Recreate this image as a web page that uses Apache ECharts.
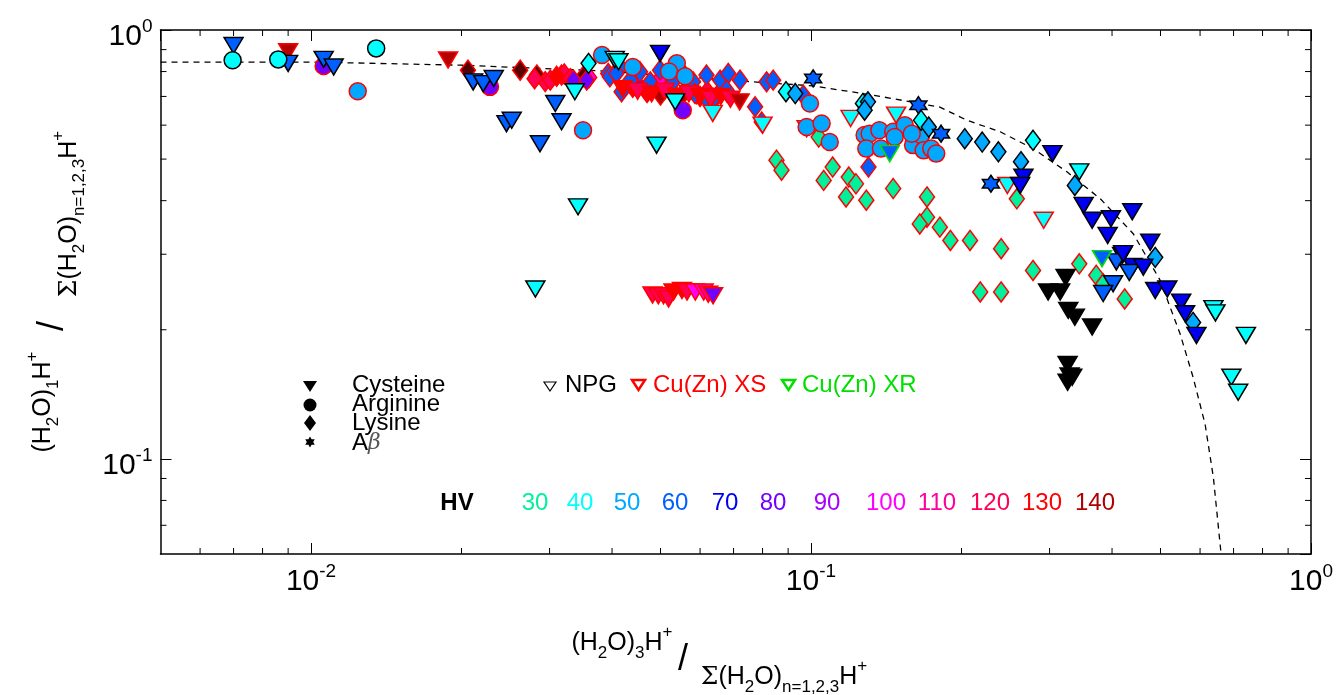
<!DOCTYPE html>
<html>
<head>
<meta charset="utf-8">
<script src="https://cdn.jsdelivr.net/npm/echarts@6/dist/echarts.min.js"></script>
<style>
  html, body { margin: 0; background: #fff; }
  #chart { width: 1339px; height: 695px; }
</style>
</head>
<body>
<div id="chart"></div>
<script>
// ── Data: [x, y, HV] per amino acid / preparation ──
const cysNpg = [
  [0.0070, 0.920, 60], [0.0090, 0.836, 60], [0.0106, 0.854, 60], [0.0111, 0.820, 60],
  [0.0211, 0.757, 60], [0.0221, 0.750, 60], [0.0232, 0.771, 60], [0.0246, 0.605, 60],
  [0.0252, 0.616, 60], [0.0287, 0.543, 60], [0.0308, 0.674, 60], [0.0317, 0.611, 60],
  [0.0337, 0.718, 40], [0.0405, 0.854, 40], [0.0412, 0.843, 40], [0.0499, 0.882, 70],
  [0.0491, 0.539, 40], [0.0342, 0.387, 40], [0.0281, 0.249, 40], [0.0535, 0.680, 40],
  [0.304, 0.515, 70], [0.266, 0.454, 70], [0.262, 0.434, 70], [0.344, 0.467, 40],
  [0.351, 0.390, 70], [0.365, 0.360, 70], [0.398, 0.363, 70], [0.439, 0.377, 70],
  [0.392, 0.332, 70], [0.477, 0.320, 70], [0.419, 0.298, 70], [0.440, 0.281, 70],
  [0.408, 0.288, 60], [0.433, 0.272, 60], [0.462, 0.280, 70], [0.402, 0.256, 60],
  [0.384, 0.243, 60], [0.421, 0.301, 70], [0.488, 0.247, 70], [0.516, 0.249, 70],
  [0.550, 0.232, 70], [0.560, 0.218, 70], [0.590, 0.194, 70], [0.638, 0.224, 40],
  [0.644, 0.219, 40], [0.741, 0.194, 40], [0.693, 0.155, 40], [0.715, 0.143, 40],
  [0.298, 0.245, 20], [0.315, 0.245, 20], [0.323, 0.265, 20], [0.327, 0.222, 20],
  [0.337, 0.214, 20], [0.365, 0.203, 20], [0.326, 0.166, 20], [0.329, 0.156, 20],
  [0.326, 0.151, 20], [0.333, 0.155, 20]
];
const cysXs = [
  [0.042, 0.730, 130], [0.045, 0.720, 120], [0.048, 0.710, 130], [0.051, 0.720, 120],
  [0.054, 0.700, 130], [0.057, 0.710, 120], [0.060, 0.700, 130], [0.063, 0.690, 120],
  [0.066, 0.700, 130], [0.069, 0.690, 120],
  [0.0090, 0.890, 140], [0.0188, 0.851, 140], [0.0720, 0.680, 140], [0.0636, 0.639, 40],
  [0.0800, 0.600, 40], [0.0980, 0.589, 40], [0.1200, 0.622, 40], [0.1480, 0.633, 40],
  [0.2470, 0.434, 40], [0.2920, 0.360, 40],
  [0.0482, 0.241, 120], [0.0495, 0.240, 120], [0.0507, 0.240, 120], [0.0519, 0.236, 120],
  [0.0531, 0.245, 130], [0.0552, 0.247, 130], [0.0565, 0.245, 120], [0.0587, 0.245, 100],
  [0.0610, 0.245, 100], [0.0623, 0.242, 110], [0.0637, 0.240, 80]
];
const cysXr = [[0.1437, 0.515, 60], [0.382, 0.293, 60]];
const argNpg = [[0.00697, 0.850, 40], [0.0086, 0.854, 40], [0.0135, 0.906, 40]];
const argXs = [
  [0.0106, 0.824, 80], [0.0124, 0.720, 50], [0.0228, 0.737, 80], [0.0382, 0.874, 50],
  [0.0350, 0.584, 50], [0.0539, 0.836, 50], [0.0554, 0.650, 80], [0.044, 0.820, 50],
  [0.052, 0.800, 50], [0.056, 0.780, 50],
  [0.0995, 0.674, 50], [0.098, 0.594, 50], [0.105, 0.605, 50], [0.109, 0.548, 50],
  [0.128, 0.569, 50], [0.131, 0.573, 50], [0.137, 0.584, 50], [0.146, 0.579, 50],
  [0.154, 0.600, 50], [0.129, 0.529, 50], [0.138, 0.529, 50], [0.147, 0.563, 50],
  [0.160, 0.539, 50], [0.166, 0.569, 50], [0.168, 0.524, 50], [0.174, 0.529, 50],
  [0.178, 0.515, 50], [0.159, 0.573, 50]
];
const lysNpg = [
  [0.0359, 0.836, 40], [0.0891, 0.718, 40], [0.0930, 0.711, 50], [0.127, 0.674, 40],
  [0.130, 0.680, 50], [0.128, 0.650, 50], [0.166, 0.616, 40], [0.172, 0.594, 50],
  [0.203, 0.558, 50], [0.220, 0.548, 50], [0.237, 0.520, 50], [0.263, 0.493, 50],
  [0.278, 0.553, 40], [0.337, 0.434, 50], [0.488, 0.295, 50], [0.581, 0.208, 50]
];
const lysXs = [
  [0.044, 0.735, 130], [0.047, 0.715, 130], [0.050, 0.730, 120], [0.053, 0.715, 130],
  [0.056, 0.725, 120], [0.059, 0.710, 130], [0.062, 0.720, 120], [0.065, 0.705, 130],
  [0.068, 0.715, 120], [0.050, 0.705, 140], [0.055, 0.700, 140], [0.060, 0.700, 140],
  [0.0206, 0.806, 150], [0.0262, 0.806, 150], [0.0283, 0.785, 150], [0.0350, 0.778, 150],
  [0.0294, 0.758, 120], [0.0301, 0.764, 120], [0.0317, 0.785, 120], [0.0321, 0.790, 120],
  [0.0330, 0.770, 120], [0.0280, 0.770, 120], [0.0310, 0.780, 130],
  [0.0360, 0.775, 100], [0.0499, 0.771, 100],
  [0.0335, 0.764, 80], [0.0451, 0.744, 80], [0.0356, 0.764, 80],
  [0.0393, 0.792, 60], [0.0415, 0.821, 60], [0.0435, 0.764, 60], [0.0455, 0.799, 60],
  [0.0477, 0.757, 60], [0.0499, 0.806, 60], [0.0530, 0.757, 60], [0.0555, 0.792, 60],
  [0.0581, 0.757, 60], [0.0618, 0.785, 60], [0.0658, 0.764, 60], [0.0683, 0.792, 60],
  [0.0721, 0.764, 60], [0.0418, 0.718, 60], [0.0638, 0.692, 60], [0.0586, 0.711, 60],
  [0.0678, 0.724, 60], [0.0618, 0.692, 60], [0.0773, 0.662, 60], [0.0797, 0.610, 60],
  [0.0815, 0.757, 60], [0.0840, 0.764, 60], [0.0965, 0.705, 60], [0.1303, 0.479, 60],
  [0.0396, 0.778, 60], [0.0408, 0.792, 60],
  [0.0853, 0.497, 30], [0.0873, 0.471, 30], [0.1036, 0.563, 30], [0.1105, 0.479, 30],
  [0.106, 0.446, 30], [0.119, 0.454, 30], [0.123, 0.438, 30], [0.1175, 0.408, 30],
  [0.129, 0.401, 30], [0.146, 0.427, 30], [0.1706, 0.408, 30], [0.1706, 0.366, 30],
  [0.165, 0.353, 30], [0.181, 0.347, 30], [0.190, 0.323, 30], [0.208, 0.323, 30],
  [0.258, 0.404, 30], [0.240, 0.309, 30], [0.278, 0.275, 30], [0.344, 0.285, 30],
  [0.372, 0.268, 30], [0.384, 0.256, 30], [0.424, 0.236, 30], [0.218, 0.245, 30],
  [0.240, 0.245, 30]
];
const abNpg = [[0.101, 0.771, 60], [0.164, 0.668, 60], [0.182, 0.573, 60], [0.229, 0.438, 60]];

// dashed guide curve
const curveX = [0.005, 0.01, 0.0199, 0.0287, 0.0379, 0.0766, 0.1007, 0.133, 0.181, 0.205, 0.239,
  0.278, 0.325, 0.379, 0.441, 0.499, 0.547, 0.581, 0.614, 0.638, 0.658, 0.661];
const curveY = [0.842, 0.842, 0.828, 0.814, 0.803, 0.757, 0.741, 0.705, 0.661, 0.616, 0.579,
  0.529, 0.467, 0.404, 0.335, 0.261, 0.196, 0.155, 0.1205, 0.0904, 0.0632, 0.06];

// tick positions
const xMinor = [0.006, 0.007, 0.008, 0.009, 0.02, 0.03, 0.04, 0.05, 0.06, 0.07, 0.08, 0.09,
  0.2, 0.3, 0.4, 0.5, 0.6, 0.7, 0.8, 0.9];
const yMinor = [0.07, 0.08, 0.09, 0.2, 0.3, 0.4, 0.5, 0.6, 0.7, 0.8, 0.9];

const hvLabels = [30, 40, 50, 60, 70, 80, 90, 100, 110, 120, 130, 140];

// ── Styles ──
const hvColor = {
  20: '#000000', 30: '#00f09c', 40: '#00ffff', 50: '#00a8ff', 60: '#0060ff', 70: '#0000f0',
  80: '#7000ff', 90: '#a800ff', 100: '#ff00ff', 110: '#ff00a0', 120: '#ff0055',
  130: '#ff0000', 140: '#b00000', 150: '#5a0000'
};
const FONT = '"Liberation Sans", Arial, Helvetica, sans-serif';
const SERIF = '"DejaVu Serif", "Liberation Serif", serif';
const NPG = '#000000', XS = '#ff0000', XR = '#00e000';

function starPoints(cx, cy, r) {
  const pts = [];
  for (let i = 0; i < 12; i++) {
    const a = -Math.PI / 2 + i * Math.PI / 6;
    const k = i % 2 ? 0.58 : 1;
    pts.push([cx + r * k * Math.cos(a), cy + r * k * Math.sin(a)]);
  }
  return pts;
}
const STAR = 'path://M' + starPoints(0, 0, 1).map(p => p[0].toFixed(3) + ',' + p[1].toFixed(3)).join('L') + 'Z';

function scatter(name, data, shape, border) {
  const s = {
    name, type: 'scatter', data,
    itemStyle: {
      color: p => hvColor[p.value[2]],
      borderColor: border, borderWidth: 1.5, opacity: 1
    },
    emphasis: { disabled: true },
    z: 3
  };
  if (shape === 'tri') { s.symbol = 'triangle'; s.symbolRotate = 180; s.symbolSize = [19, 16]; }
  if (shape === 'circ') { s.symbol = 'circle'; s.symbolSize = 17; }
  if (shape === 'dia') { s.symbol = 'diamond'; s.symbolSize = [15, 20]; }
  if (shape === 'star') { s.symbol = STAR; s.symbolSize = 17; }
  return s;
}

function tickLabel(v) {
  const e = Math.round(Math.log10(v));
  return '{a|10}{b|' + e + '}';
}
// superscript lifted by bottom padding on its token
const tickRich = {
  a: { fontSize: 30, fontFamily: FONT, color: '#000', lineHeight: 44 },
  b: { fontSize: 19, fontFamily: FONT, color: '#000', padding: [0, 0, 20, 0] }
};

const baseX = {
  type: 'log', logBase: 10, min: 0.005, max: 1,
  axisLine: { show: true, onZero: false, lineStyle: { color: '#000', width: 1.5 } },
  axisTick: { show: true, inside: true, length: 11, lineStyle: { color: '#000', width: 1 } },
  splitLine: { show: false }
};
const baseY = {
  type: 'log', logBase: 10, min: 0.06, max: 1,
  axisLine: { show: true, onZero: false, lineStyle: { color: '#000', width: 1.5 } },
  axisTick: { show: true, inside: true, length: 11, lineStyle: { color: '#000', width: 1 } },
  splitLine: { show: false }
};

function minorTicks(values, dir) {
  return {
    type: 'custom', coordinateSystem: 'cartesian2d', silent: true, clip: false, z: 6,
    data: values.map(v => dir === 'x' ? [v, 0.5] : [0.1, v]),
    renderItem: (params, api) => {
      const cs = params.coordSys;
      const st = { stroke: '#000', lineWidth: 1 };
      if (dir === 'x') {
        const px = api.coord([api.value(0), 0.5])[0];
        const b = cs.y + cs.height;
        return { type: 'group', children: [
          { type: 'line', shape: { x1: px, y1: b, x2: px, y2: b - 6 }, style: st },
          { type: 'line', shape: { x1: px, y1: cs.y, x2: px, y2: cs.y + 6 }, style: st }
        ] };
      }
      const py = api.coord([0.1, api.value(1)])[1];
      const r = cs.x + cs.width;
      return { type: 'group', children: [
        { type: 'line', shape: { x1: cs.x, y1: py, x2: cs.x + 6, y2: py }, style: st },
        { type: 'line', shape: { x1: r, y1: py, x2: r - 6, y2: py }, style: st }
      ] };
    }
  };
}

// ── Legend / annotation graphics ──
const chemRich = {
  m: { fontSize: 25, fontFamily: FONT, fill: '#000', lineHeight: 38, verticalAlign: 'middle' },
  sub: { fontSize: 17, fontFamily: FONT, fill: '#000', lineHeight: 17, verticalAlign: 'bottom' },
  sup: { fontSize: 17, fontFamily: FONT, fill: '#000', lineHeight: 17, verticalAlign: 'top' },
  sig: { fontSize: 25, fontFamily: SERIF, fill: '#000', lineHeight: 38, verticalAlign: 'middle' }
};
const numText = '{m|(H}{sub|2}{m|O)}{sub|1}{m|H}{sup|+}';
const numTextX = '{m|(H}{sub|2}{m|O)}{sub|3}{m|H}{sup|+}';
const denText = '{sig|Σ}{m|(H}{sub|2}{m|O)}{sub|n=1,2,3}{m|H}{sup|+}';

function txt(x, y, text, color, extra) {
  return { type: 'text', x, y, silent: true, style: Object.assign({
    text, fill: color, font: '24px ' + FONT, align: 'left', verticalAlign: 'middle'
  }, extra || {}) };
}

const graphics = [
  // amino-acid symbol key
  { type: 'polygon', silent: true, shape: { points: [[303, 381], [317, 381], [310, 392]] }, style: { fill: '#000' } },
  { type: 'circle', silent: true, shape: { cx: 310, cy: 405, r: 6.5 }, style: { fill: '#000' } },
  { type: 'polygon', silent: true, shape: { points: [[310, 415], [316, 423], [310, 431], [304, 423]] }, style: { fill: '#000' } },
  { type: 'polygon', silent: true, shape: { points: starPoints(310, 442, 5.5) }, style: { fill: '#000' } },
  txt(352, 385, 'Cysteine', '#000'),
  txt(352, 404, 'Arginine', '#000'),
  txt(352, 423, 'Lysine', '#000'),
  { type: 'text', x: 352, y: 443, silent: true, style: {
    text: '{a|A}{b|β}', verticalAlign: 'middle',
    rich: { a: { fontSize: 24, fontFamily: FONT, fill: '#000' },
            b: { fontSize: 22, fontStyle: 'italic', fontFamily: SERIF, fill: '#555' } } } },
  // preparation key
  { type: 'polygon', silent: true, shape: { points: [[544, 382], [556, 382], [550, 391]] }, style: { fill: 'none', stroke: '#000', lineWidth: 1.2 } },
  txt(565, 385, 'NPG', '#000'),
  { type: 'polygon', silent: true, shape: { points: [[632, 380], [645, 380], [638.5, 390]] }, style: { fill: 'none', stroke: XS, lineWidth: 2.5 } },
  txt(653, 385, 'Cu(Zn) XS', XS),
  { type: 'polygon', silent: true, shape: { points: [[782, 380], [795, 380], [788.5, 390]] }, style: { fill: 'none', stroke: XR, lineWidth: 2.5 } },
  txt(802, 385, 'Cu(Zn) XR', XR),
  // HV colour key
  txt(457, 503, 'HV', '#000', { align: 'center', font: 'bold 24px ' + FONT })
];
const hvX = [535, 580, 627, 675, 725, 773, 827, 886, 937, 990, 1042, 1095];
hvLabels.forEach((hv, i) => graphics.push(txt(hvX[i], 503, String(hv), hvColor[hv], { align: 'center' })));

// axis titles
graphics.push(
  { type: 'text', x: 622, y: 643, silent: true, style: { text: numTextX, rich: chemRich, align: 'center', verticalAlign: 'middle' } },
  { type: 'text', x: 683, y: 660, silent: true, style: { text: '/', font: '36px ' + FONT, fill: '#000', align: 'center', verticalAlign: 'middle' } },
  { type: 'text', x: 784, y: 677, silent: true, style: { text: denText, rich: chemRich, align: 'center', verticalAlign: 'middle' } },
  { type: 'group', x: 55, y: 290, rotation: Math.PI / 2, children: [
    { type: 'text', x: -112, y: -12, silent: true, style: { text: numText, rich: chemRich, align: 'center', verticalAlign: 'middle' } },
    { type: 'text', x: -36, y: -2, silent: true, style: { text: '/', font: '36px ' + FONT, fill: '#000', align: 'center', verticalAlign: 'middle' } },
    { type: 'text', x: 76, y: 14, silent: true, style: { text: denText, rich: chemRich, align: 'center', verticalAlign: 'middle' } }
  ] }
);

const chart = echarts.init(document.getElementById('chart'), null, { renderer: 'canvas' });
chart.setOption({
  animation: false,
  backgroundColor: '#fff',
  grid: { left: 160.5, right: 28, top: 30, bottom: 141, containLabel: false },
  xAxis: [
    Object.assign({}, baseX, { position: 'bottom',
      axisLabel: { show: true, showMinLabel: false, margin: 6, formatter: tickLabel, rich: tickRich } }),
    Object.assign({}, baseX, { position: 'top', axisLabel: { show: false } })
  ],
  yAxis: [
    Object.assign({}, baseY, { position: 'left',
      axisLabel: { show: true, showMinLabel: false, margin: 8, padding: [14, 0, 0, 0],
        formatter: tickLabel, rich: tickRich } }),
    Object.assign({}, baseY, { position: 'right', axisLabel: { show: false } })
  ],
  series: [
    {
      type: 'line', data: curveX.map((x, i) => [x, curveY[i]]), symbol: 'none', silent: true,
      lineStyle: { color: '#000', width: 1.3, type: [6, 5] }, z: 2
    },
    scatter('Lysine XS', lysXs, 'dia', XS),
    scatter('Cysteine XS', cysXs, 'tri', XS),
    scatter('Arginine XS', argXs, 'circ', XS),
    scatter('Lysine NPG', lysNpg, 'dia', NPG),
    scatter('Cysteine NPG', cysNpg, 'tri', NPG),
    scatter('Arginine NPG', argNpg, 'circ', NPG),
    scatter('Cysteine XR', cysXr, 'tri', XR),
    scatter('Abeta NPG', abNpg, 'star', NPG),
    minorTicks(xMinor, 'x'),
    minorTicks(yMinor, 'y')
  ],
  graphic: graphics
});
</script>
</body>
</html>
